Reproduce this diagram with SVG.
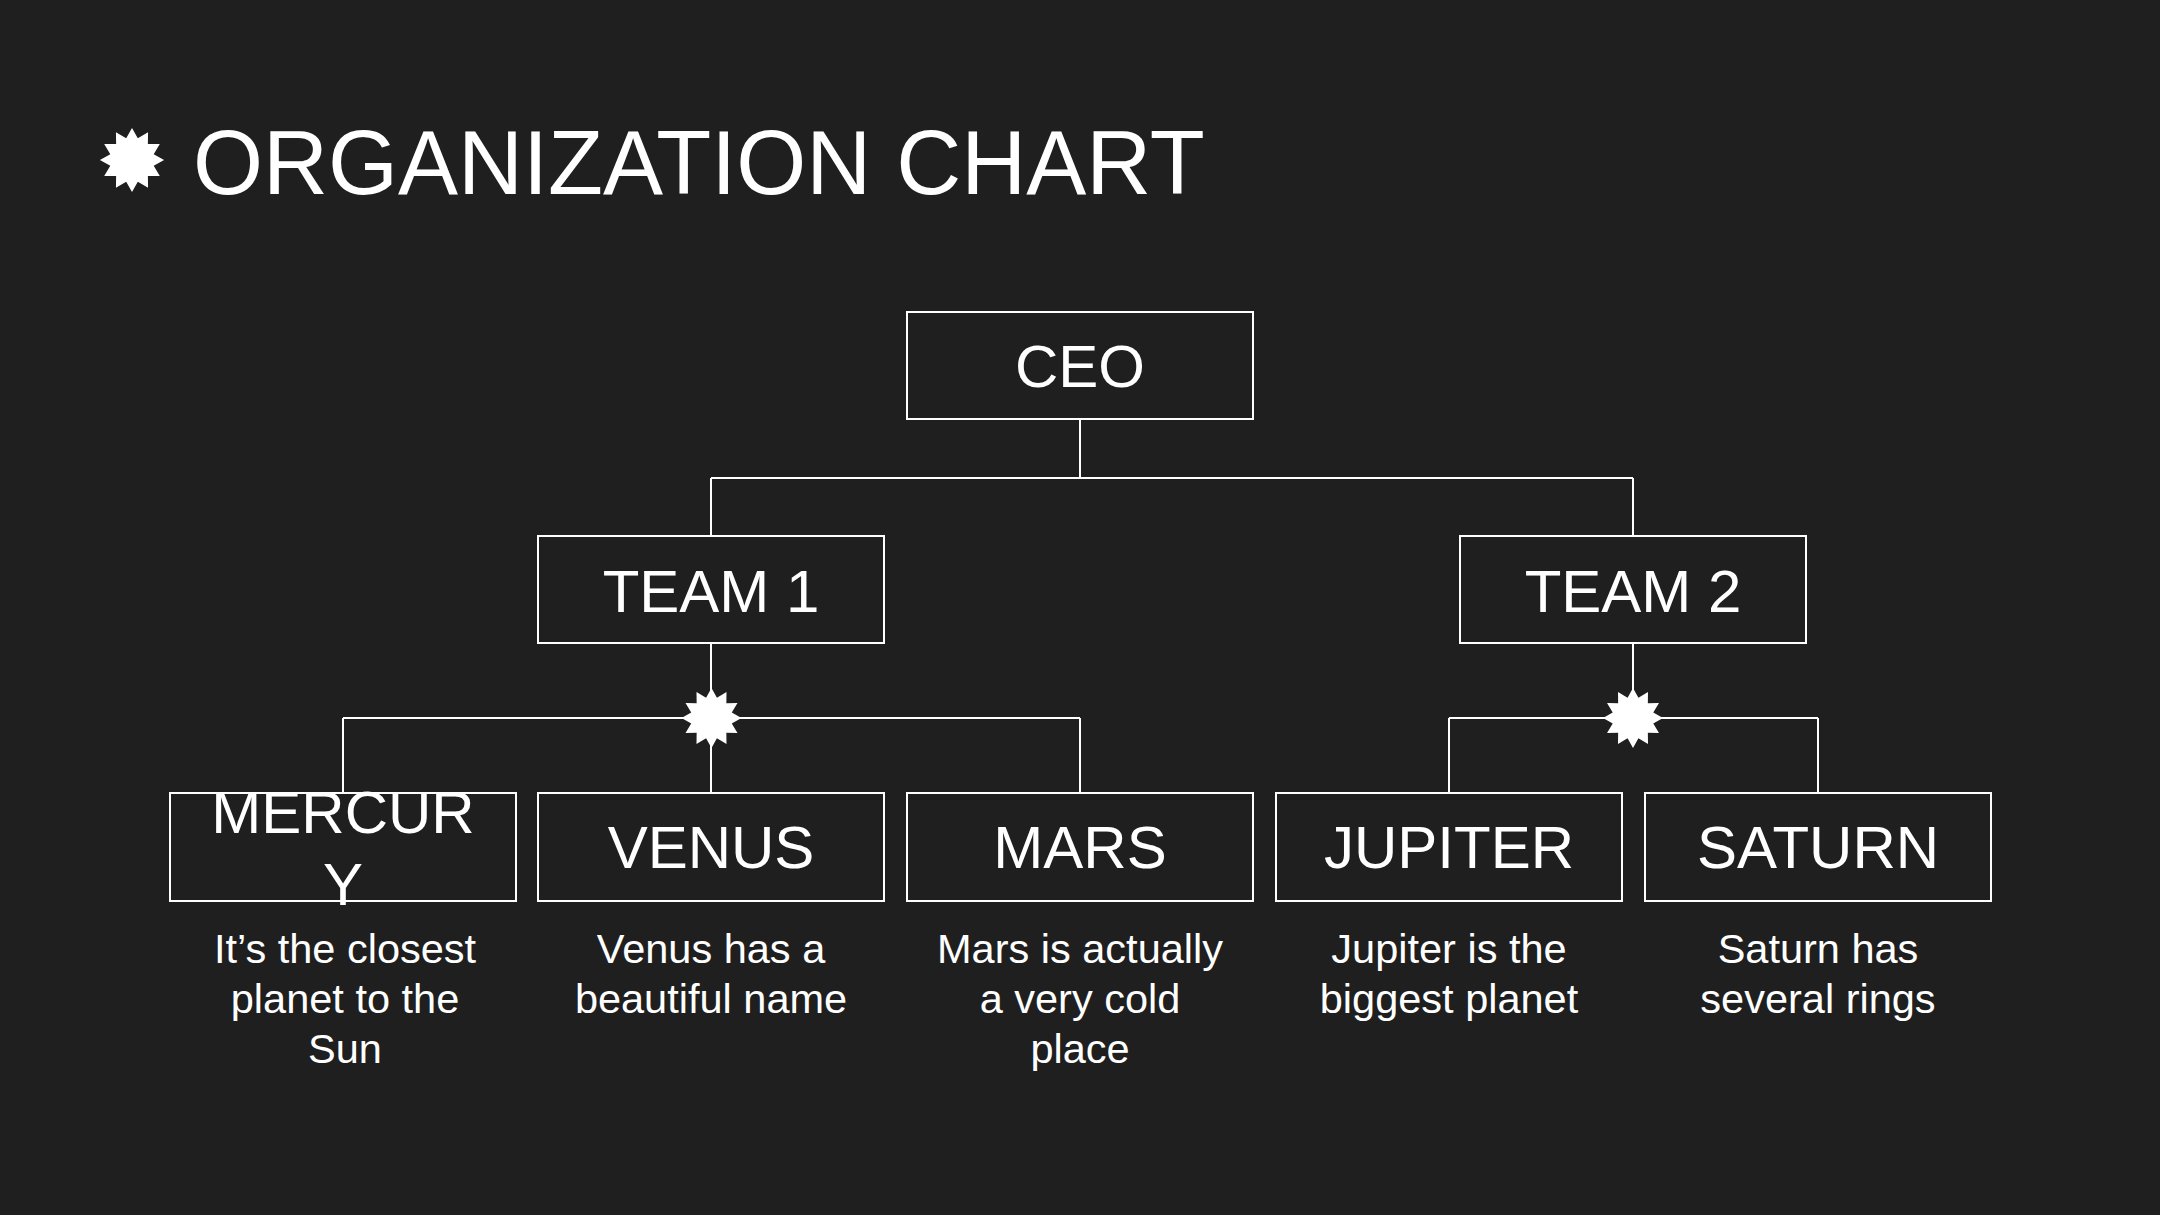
<svg xmlns="http://www.w3.org/2000/svg" width="2160" height="1215" viewBox="0 0 2160 1215">
  <defs>
    <style>
      .bg { fill: #1f1f1f; }
      .box { fill: #1f1f1f; stroke: #ffffff; stroke-width: 2; }
      .lbl { fill: #ffffff; font-family: "Liberation Sans", Arial, sans-serif; font-size: 60px; text-anchor: middle; }
      .desc { fill: #ffffff; font-family: "Liberation Sans", Arial, sans-serif; font-size: 41.5px; text-anchor: middle; }
      .title { fill: #ffffff; font-family: "Liberation Sans", Arial, sans-serif; font-size: 90px; }
      .conn { fill: none; stroke: #ffffff; stroke-width: 2; }
      .star { fill: #ffffff; }
    </style>
    <polygon id="star12" points="0,-30 5.43,-20.28 15,-25.98 14.85,-14.85 25.98,-15 20.28,-5.43 30,0 20.28,5.43 25.98,15 14.85,14.85 15,25.98 5.43,20.28 0,30 -5.43,20.28 -15,25.98 -14.85,14.85 -25.98,15 -20.28,5.43 -30,0 -20.28,-5.43 -25.98,-15 -14.85,-14.85 -15,-25.98 -5.43,-20.28"/>
  </defs>
  <rect class="bg" x="0" y="0" width="2160" height="1215"/>

  <g id="title">
    <use href="#star12" class="star" transform="translate(132,160) scale(1.07)"/>
    <text class="title" x="193" y="194">ORGANIZATION CHART</text>
  </g>

  <g id="connectors">
    <path class="conn" d="M1080 419 V478 M711 478 H1633 M711 478 V536 M1633 478 V536"/>
    <path class="conn" d="M711 643 V718 M343 718 H1080 M343 718 V793 M711 718 V793 M1080 718 V793"/>
    <path class="conn" d="M1633 643 V718 M1449 718 H1818 M1449 718 V793 M1818 718 V793"/>
    <use href="#star12" class="star" transform="translate(711.5,718)"/>
    <use href="#star12" class="star" transform="translate(1633,718)"/>
  </g>

  <g id="ceo">
    <rect class="box" x="907" y="312" width="346" height="107"/>
    <text class="lbl" x="1080" y="387">CEO</text>
  </g>
  <g id="team1">
    <rect class="box" x="538" y="536" width="346" height="107"/>
    <text class="lbl" x="711" y="612">TEAM 1</text>
  </g>
  <g id="team2">
    <rect class="box" x="1460" y="536" width="346" height="107"/>
    <text class="lbl" x="1633" y="612">TEAM 2</text>
  </g>

  <g id="mercury">
    <rect class="box" x="170" y="793" width="346" height="108"/>
    <text class="lbl" x="343" y="833"><tspan x="343">MERCUR</tspan><tspan x="343" dy="72">Y</tspan></text>
    <text class="desc" x="345" y="963"><tspan x="345">It’s the closest</tspan><tspan x="345" dy="50">planet to the</tspan><tspan x="345" dy="50">Sun</tspan></text>
  </g>
  <g id="venus">
    <rect class="box" x="538" y="793" width="346" height="108"/>
    <text class="lbl" x="711" y="868">VENUS</text>
    <text class="desc" x="711" y="963"><tspan x="711">Venus has a</tspan><tspan x="711" dy="50">beautiful name</tspan></text>
  </g>
  <g id="mars">
    <rect class="box" x="907" y="793" width="346" height="108"/>
    <text class="lbl" x="1080" y="868">MARS</text>
    <text class="desc" x="1080" y="963"><tspan x="1080">Mars is actually</tspan><tspan x="1080" dy="50">a very cold</tspan><tspan x="1080" dy="50">place</tspan></text>
  </g>
  <g id="jupiter">
    <rect class="box" x="1276" y="793" width="346" height="108"/>
    <text class="lbl" x="1449" y="868">JUPITER</text>
    <text class="desc" x="1449" y="963"><tspan x="1449">Jupiter is the</tspan><tspan x="1449" dy="50">biggest planet</tspan></text>
  </g>
  <g id="saturn">
    <rect class="box" x="1645" y="793" width="346" height="108"/>
    <text class="lbl" x="1818" y="868">SATURN</text>
    <text class="desc" x="1818" y="963"><tspan x="1818">Saturn has</tspan><tspan x="1818" dy="50">several rings</tspan></text>
  </g>
</svg>
